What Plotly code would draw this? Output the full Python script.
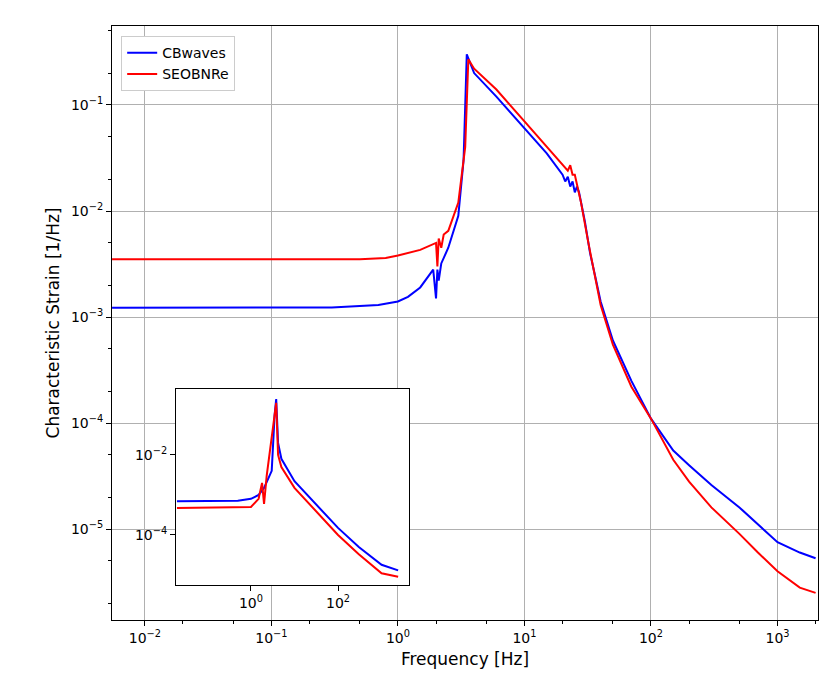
import plotly.graph_objects as go

# main panel: characteristic strain
cb_f = [0.0055, 0.1, 0.3, 0.7, 1.0, 1.2, 1.5, 1.9, 1.95, 2.0, 2.05, 2.1, 2.2, 2.5, 3.0, 3.3, 3.5, 4, 6, 10,
        15, 20, 21, 22, 23, 24, 25, 26, 27, 30, 33, 36, 40, 50, 70, 100, 150, 200, 300, 500, 700, 1000,
        1500, 2000]
cb_h = [1.22e-3, 1.22e-3, 1.23e-3, 1.3e-3, 1.4e-3, 1.55e-3, 1.9e-3, 2.8e-3, 2.0e-3, 1.5e-3, 2.8e-3, 2.2e-3,
        3.2e-3, 4.5e-3, 9e-3, 0.03, 0.3, 0.2, 0.12, 0.06, 0.035, 0.022, 0.019, 0.021, 0.017, 0.019, 0.015,
        0.017, 0.015, 0.008, 0.004, 0.0025, 1.4e-3, 6e-4, 2.5e-4, 1.1e-4, 5.5e-5, 4e-5, 2.6e-5, 1.6e-5,
        1.1e-5, 7.5e-6, 6e-6, 5.3e-6]
se_f = [0.0055, 0.5, 0.8, 1.0, 1.5, 2.0, 2.05, 2.1, 2.2, 2.3, 2.5, 3.0, 3.4, 3.6, 4, 6, 10, 15, 20,
        22, 23, 24, 25, 28, 32, 36, 40, 50, 70, 100, 150, 200, 300, 500, 700, 1000, 1500, 2000]
se_h = [3.5e-3, 3.5e-3, 3.6e-3, 3.8e-3, 4.3e-3, 5e-3, 3e-3, 5.5e-3, 4.5e-3, 6e-3, 6.5e-3, 1.2e-2, 0.04,
        0.27, 0.22, 0.14, 0.07, 0.04, 0.027, 0.024, 0.027, 0.022, 0.022, 0.012, 0.005, 0.0025, 1.3e-3,
        5.5e-4, 2.2e-4, 1.1e-4, 4.5e-5, 2.8e-5, 1.6e-5, 9e-6, 6e-6, 4e-6, 2.8e-6, 2.5e-6]

# inset panel
in_cb_f = [0.02, 0.5, 1, 1.5, 2, 3, 3.5, 3.8, 4.2, 5, 10, 30, 100, 300, 1000, 2400]
in_cb_h = [7e-4, 7.2e-4, 8e-4, 1e-3, 1.5e-3, 4e-3, 0.1, 0.25, 0.02, 8e-3, 2.2e-3, 6e-4, 1.5e-4, 5e-5,
           1.8e-5, 1.3e-5]
in_se_f = [0.02, 0.5, 1, 1.5, 1.8, 2, 2.3, 3.5, 3.8, 4.2, 5, 10, 30, 100, 300, 1000, 2400]
in_se_h = [4.7e-4, 4.8e-4, 5e-4, 8e-4, 2e-3, 6e-4, 3e-3, 0.1, 0.2, 0.01, 5e-3, 1.5e-3, 4e-4, 1e-4,
           3.3e-5, 1.1e-5, 9e-6]

BLUE, RED = "#0000ff", "#ff0000"
fig = go.Figure()
fig.add_trace(go.Scatter(x=cb_f, y=cb_h, mode="lines", name="CBwaves", line=dict(color=BLUE, width=2)))
fig.add_trace(go.Scatter(x=se_f, y=se_h, mode="lines", name="SEOBNRe", line=dict(color=RED, width=2)))
fig.add_trace(go.Scatter(x=in_cb_f, y=in_cb_h, mode="lines", showlegend=False,
                         line=dict(color=BLUE, width=2), xaxis="x2", yaxis="y2"))
fig.add_trace(go.Scatter(x=in_se_f, y=in_se_h, mode="lines", showlegend=False,
                         line=dict(color=RED, width=2), xaxis="x2", yaxis="y2"))

ax = dict(type="log", showline=True, mirror=True, linecolor="black", linewidth=1, automargin=False,
          gridcolor="#b0b0b0", ticks="outside", ticklen=5, tickcolor="black", zeroline=False)
minor = dict(ticks="outside", ticklen=3, tickcolor="black", showgrid=False)
xt = [1e-2, 1e-1, 1, 10, 100, 1000]
yt = [1e-5, 1e-4, 1e-3, 1e-2, 1e-1]
fig.update_layout(
    width=830, height=692, plot_bgcolor="white", paper_bgcolor="white",
    margin=dict(l=104, r=20, t=18, b=80),
    font=dict(family="DejaVu Sans", size=14, color="black"),
    xaxis=dict(ax, minor=minor, range=[-2.26, 3.32], tickvals=xt,
               ticktext=["10<sup>−2</sup>", "10<sup>−1</sup>", "10<sup>0</sup>", "10<sup>1</sup>",
                         "10<sup>2</sup>", "10<sup>3</sup>"],
               title=dict(text="Frequency [Hz]", standoff=8)),
    yaxis=dict(ax, minor=minor, range=[-5.858, -0.255], tickvals=yt,
               ticktext=["10<sup>−5</sup>", "10<sup>−4</sup>", "10<sup>−3</sup>", "10<sup>−2</sup>",
                         "10<sup>−1</sup>"],
               title=dict(text="Characteristic Strain [1/Hz]", standoff=6)),
    xaxis2=dict(ax, domain=[0.0907, 0.4207], anchor="y2", range=[-1.72, 3.63], showgrid=False,
                tickvals=[1, 100], ticktext=["10<sup>0</sup>", "10<sup>2</sup>"]),
    yaxis2=dict(ax, domain=[0.059, 0.389], anchor="x2", range=[-5.25, -0.35], showgrid=False,
                tickvals=[1e-4, 1e-2], ticktext=["10<sup>−4</sup>", "10<sup>−2</sup>"]),
    legend=dict(x=0.013, y=0.983, xanchor="left", yanchor="top", bgcolor="white",
                bordercolor="#cccccc", borderwidth=1, font=dict(size=14)),
)
fig.add_shape(type="rect", xref="x2 domain", yref="y2 domain", x0=0, x1=1, y0=0, y1=1,
              fillcolor="white", line=dict(width=0), layer="below")
fig.write_html("out.html")
